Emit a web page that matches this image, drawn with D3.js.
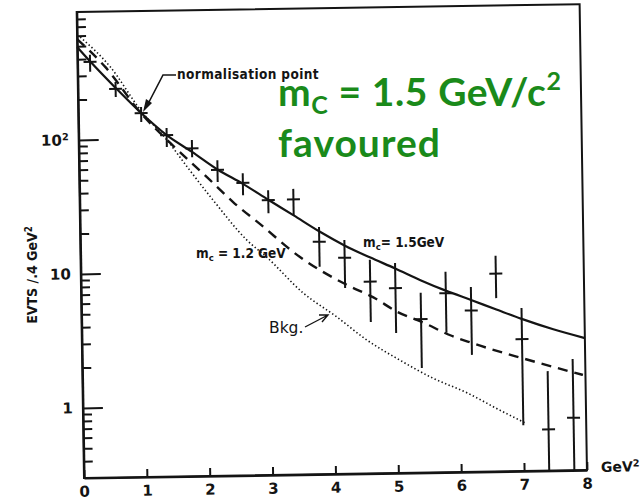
<!DOCTYPE html>
<html><head><meta charset="utf-8">
<script src="https://cdn.jsdelivr.net/npm/d3@7"></script>
<style>body{margin:0;background:#fff}svg{display:block}</style>
</head><body>
<svg id="c" width="642" height="500"></svg>
<script>
// ---- data ----
const binCenters = [0.2,0.6,1.0,1.4,1.8,2.2,2.6,3.0,3.4,3.8,4.2,4.6,5.0,5.4,5.8,6.2,6.6,7.0,7.4,7.8];
const evts   = [381,238,156,106,84,57.5,45.7,33.8,34,16.3,12.3,8.1,7.2,4.2,6.5,4.8,9.0,2.9,0.61,0.74];
const errHi  = [430,268,173,120,97,68,54,40,40.7,21,16.7,11.8,11.1,6.6,9.4,7.2,12.2,4.95,1.66,2.03];
const errLo  = [321,207,134,86.6,72,46.8,37,27,26,10.6,7.3,4.05,3.33,1.81,3.3,2.24,5.9,0.66,0.3,0.3];

const mc15X = [0,0.2,0.6,1.0,1.4,1.8,2.2,2.6,3.0,3.4,3.8,4.2,4.6,5.0,5.4,5.8,6.2,6.6,7.0,7.5,8.0];
const mc15  = [493,385,242,156,106,79,58,45,34,25.8,19.5,15.2,12.3,10.1,8.2,6.8,5.75,4.85,4.1,3.4,2.9];

const mc12X = [0,0.44,1.0,1.45,2.03,2.44,2.86,3.49,4.23,4.64,5.02,5.46,5.85,6.2,7.04,7.96];
const mc12  = [565,348,155,93,51,33,22.5,12.6,7.7,6.2,4.8,3.9,3.17,2.75,2.06,1.54];

const bkgX = [0.05,0.52,1.0,1.4,1.72,2.12,2.65,2.96,3.53,4.06,4.53,5.05,5.57,6.11,6.63,7.02];
const bkg  = [585,348,162,98,61,34.4,17.1,12.7,6.8,4.46,2.98,2.09,1.52,1.17,0.86,0.69];

const xTicks = [0,1,2,3,4,5,6,7,8];
const yMajor = [1,10,100];
const yMinor = [0.4,0.5,0.6,0.7,0.8,0.9,2,3,4,5,6,7,8,9,20,30,40,50,60,70,80,90,200,300,400,500,600,700,800];

// ---- drawing ----
const svg = d3.select("#c");
const ink = "#141414";
const W = 503, H = 466;
const x = d3.scaleLinear().domain([0,8]).range([0,W]);
const y = d3.scaleLog().domain([0.3,900]).range([0,-H]);

const g = svg.append("g").attr("transform","translate(84,478) rotate(-0.9)");

// frame
g.append("rect").attr("x",0).attr("y",-H).attr("width",W).attr("height",H)
  .attr("fill","none").attr("stroke",ink).attr("stroke-width",2);

const tickFont = "'DejaVu Sans', sans-serif";
// y axis minor
g.append("g").call(d3.axisLeft(y).tickValues(yMinor).tickSize(-9).tickSizeOuter(0).tickFormat(""))
  .call(s=>{s.select(".domain").remove(); s.selectAll("line").attr("stroke",ink).attr("stroke-width",2);});
// y axis major
const ya = g.append("g").call(d3.axisLeft(y).tickValues(yMajor).tickSize(-20).tickSizeOuter(0).tickPadding(10).tickFormat(d=>d===100?"10":d));
ya.select(".domain").attr("stroke",ink).attr("stroke-width",2.2);
ya.selectAll("line").attr("stroke",ink).attr("stroke-width",2);
ya.selectAll("text").attr("font-family",tickFont).attr("font-weight","bold").attr("font-size",15).attr("fill",ink)
  .each(function(d){ if(d===100){ d3.select(this).append("tspan").attr("dy","-0.55em").attr("font-size","0.65em").text("2"); } });

// x axis
const xa = g.append("g").call(d3.axisBottom(x).tickValues(xTicks).tickSize(-8).tickSizeOuter(0).tickPadding(8));
xa.select(".domain").attr("stroke",ink).attr("stroke-width",2.2);
xa.selectAll("line").attr("stroke",ink).attr("stroke-width",2);
xa.selectAll("text").attr("font-family",tickFont).attr("font-weight","bold").attr("font-size",15).attr("fill",ink);
g.append("text").attr("x",x(8)+14).attr("y",2).attr("font-family",tickFont).attr("font-weight","bold")
  .attr("font-size",14).attr("fill",ink).text("GeV").append("tspan").attr("dy","-0.5em").attr("font-size","0.7em").text("2");

// curves
const line = d3.line().x(d=>x(d[0])).y(d=>y(d[1])).curve(d3.curveMonotoneX);
g.append("path").datum(mc15X.map((v,i)=>[v,mc15[i]])).attr("d",line)
  .attr("fill","none").attr("stroke",ink).attr("stroke-width",2.2);
g.append("path").datum(mc12X.map((v,i)=>[v,mc12[i]])).attr("d",line)
  .attr("fill","none").attr("stroke",ink).attr("stroke-width",2.4).attr("stroke-dasharray","10,7");
g.append("path").datum(bkgX.map((v,i)=>[v,bkg[i]])).attr("d",line)
  .attr("fill","none").attr("stroke",ink).attr("stroke-width",1.6).attr("stroke-dasharray","1.4,2.4");

// data points with error bars
const pts = g.append("g").attr("stroke",ink).attr("stroke-width",2);
binCenters.forEach((c,i)=>{
  pts.append("line").attr("x1",x(c)).attr("x2",x(c)).attr("y1",y(errLo[i])).attr("y2",y(errHi[i]));
  pts.append("line").attr("x1",x(c)-6.5).attr("x2",x(c)+6.5).attr("y1",y(evts[i])).attr("y2",y(evts[i]));
});

// annotations (scanned labels)
const ann = svg.append("g").attr("fill",ink).attr("font-family","'DejaVu Sans Condensed','DejaVu Sans',sans-serif").attr("font-weight","bold");
ann.append("text").attr("x",177).attr("y",79).attr("font-size",13.5).attr("letter-spacing",0.4).text("normalisation  point");
svg.append("path").attr("d","M176,75 L163,75 L149,102").attr("fill","none").attr("stroke",ink).attr("stroke-width",1.6);
svg.append("path").attr("d","M143,112 L146,99 L152,103 Z").attr("fill",ink);

const t15 = ann.append("text").attr("x",363).attr("y",247).attr("font-size",13.5);
t15.append("tspan").text("m");
t15.append("tspan").attr("dy",3).attr("font-size",9.5).text("c");
t15.append("tspan").attr("dy",-3).text("= 1.5GeV");

const t12 = ann.append("text").attr("x",196).attr("y",258).attr("font-size",13.5);
t12.append("tspan").text("m");
t12.append("tspan").attr("dy",3).attr("font-size",9.5).text("c");
t12.append("tspan").attr("dy",-3).text(" = 1.2 GeV");

ann.append("text").attr("x",269).attr("y",333).attr("font-size",15.5).attr("font-family","'DejaVu Sans',sans-serif").attr("font-weight","normal").text("Bkg.");
svg.append("path").attr("d","M305,327 L328,315 M319,315 L328,315 L322,322").attr("fill","none").attr("stroke",ink).attr("stroke-width",1.4);

// y axis title
svg.append("text").attr("transform","translate(37,275) rotate(-90)").attr("text-anchor","middle")
  .attr("font-family","'DejaVu Sans Condensed','DejaVu Sans',sans-serif").attr("font-weight","bold").attr("font-size",14).attr("fill",ink)
  .text("EVTS /.4 GeV").append("tspan").attr("dy","-0.5em").attr("font-size","0.7em").text("2");

// green overlay
const green = "#1a8a1a";
const gt = svg.append("g").attr("fill",green).attr("font-family","Lato, 'Open Sans', sans-serif").attr("font-weight","bold");
const l1 = gt.append("text").attr("x",278).attr("y",106).attr("font-size",39).attr("letter-spacing",0.6);
l1.append("tspan").text("m");
l1.append("tspan").attr("dy",8).attr("font-size",25).text("C");
l1.append("tspan").attr("dy",-8).text(" = 1.5 GeV/c");
l1.append("tspan").attr("dy",-16).attr("font-size",25).text("2");
gt.append("text").attr("x",278).attr("y",157).attr("font-size",39).attr("textLength",162).text("favoured");
</script>
</body></html>
